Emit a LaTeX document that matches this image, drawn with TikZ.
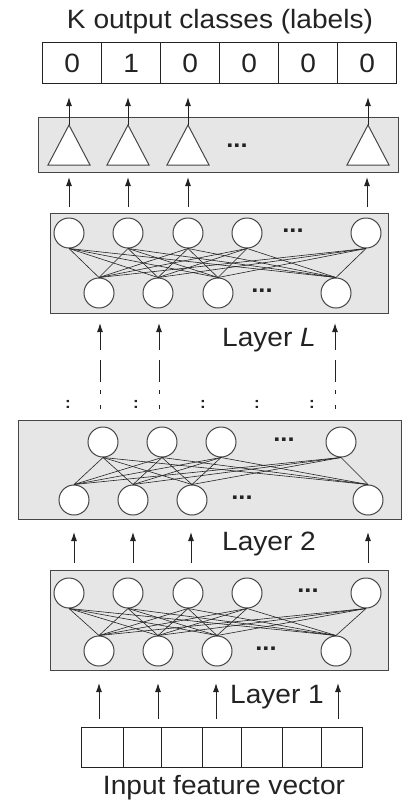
\documentclass[tikz,border=0pt]{standalone}
\usepackage{fontspec}
\setmainfont[FakeStretch=1.06]{Liberation Sans}
\usetikzlibrary{arrows.meta}
\definecolor{boxfill}{RGB}{230,230,230}
\definecolor{ink}{RGB}{35,35,35}
\definecolor{edge}{RGB}{70,70,70}
\begin{document}
\begin{tikzpicture}[x=1pt,y=-1pt,
  lbl/.style={font=\fontsize{26.5}{30}\selectfont, text=ink, inner sep=0pt},
  dotsy/.style={font=\fontsize{24}{24}\selectfont\bfseries, text=ink, inner sep=0pt},
  colon/.style={font=\fontsize{16}{16}\selectfont\bfseries, text=ink, inner sep=0pt},
  layerbox/.style={draw=edge, fill=boxfill, line width=1.2pt},
  cell/.style={draw=ink, line width=1.4pt, fill=white},
  neuron/.style={circle, draw=edge, fill=white, line width=1pt, minimum size=30pt, inner sep=0pt},
  conn/.style={draw=ink, line width=0.6pt},
  arr/.style={draw=ink, line width=1pt, -{Latex[length=9pt,width=6pt]}},
  dline/.style={draw=ink, line width=1pt, dash pattern=on 22pt off 8pt on 4pt off 11pt on 4pt off 20pt}
]
\useasboundingbox (0,0) rectangle (403,801);
\fill[white] (0,0) rectangle (403,801);

% ---------- title and output vector ----------
\node[lbl, anchor=base] (title) at (220,28) {K output classes (labels)};
\foreach \a/\b/\v [count=\i] in {42/101/0,101/160/1,160/219/0,219/278/0,278/337/0,337/396/0}
  \node[cell, lbl, minimum width=\b pt-\a pt, minimum height=41pt, anchor=north west] (o\i) at (\a,42) {\v};

% ---------- output (triangle) layer ----------
\node[layerbox, minimum width=360pt, minimum height=55pt, anchor=north west, inner sep=0pt] (tribox) at (38,117) {};
\foreach \x [count=\i] in {69,128,188,368} {
  \coordinate (ta\i) at (\x,125);
  \coordinate (tl\i) at (\x-21,165);
  \coordinate (tr\i) at (\x+21,165);
  \draw[edge, fill=white, line width=1pt] (ta\i) -- (tl\i) -- (tr\i) -- cycle;
  \coordinate (tip\i) at (\x,97);
  \draw[arr] (ta\i) -- (tip\i);
}
\node[dotsy] (tdots) at (237,146) {...};

% ---------- arrows from layer L to output layer ----------
\foreach \x [count=\i] in {69,128,188,367} {
  \coordinate (lu\i) at (\x,207);
  \coordinate (lv\i) at (\x,177);
  \draw[arr] (lu\i) -- (lv\i);
}

% ---------- Layer L ----------
\node[layerbox, minimum width=338pt, minimum height=100pt, anchor=north west, inner sep=0pt] (boxL) at (50,213) {};
\foreach \x [count=\i] in {69,128,188,247,366} \node[neuron] (LT\i) at (\x,233) {};
\foreach \x [count=\i] in {99,158,218,336} \node[neuron] (LB\i) at (\x,293) {};
\foreach \i in {1,...,5} \foreach \j in {1,...,4} \draw[conn] (LT\i.south) -- (LB\j.north);
\node[dotsy] (Ldots1) at (293,231) {...};
\node[dotsy] (Ldots2) at (262,291) {...};

% ---------- arrows into layer L (with dashes) ----------
\foreach \x [count=\i] in {100,159,335} {
  \coordinate (ds\i) at (\x,350);
  \coordinate (de\i) at (\x,323);
  \draw[arr] (ds\i) -- (de\i);
  \coordinate (dd\i) at (\x,360);
  \coordinate (df\i) at (\x,410);
  \draw[dline] (dd\i) -- (df\i);
}
\node[lbl, anchor=base] (layerL) at (269,346) {Layer \textit{L}};
\foreach \x [count=\i] in {68,136,203,257,312}
  \node[colon] (col\i) at (\x,404) {:};

% ---------- Layer 2 ----------
\node[layerbox, minimum width=383pt, minimum height=99pt, anchor=north west, inner sep=0pt] (box2) at (18,420) {};
\foreach \x [count=\i] in {103,162,221,341} \node[neuron] (MT\i) at (\x,442) {};
\foreach \x [count=\i] in {74,133,192,368} \node[neuron] (MB\i) at (\x,500) {};
\foreach \i in {1,...,4} \foreach \j in {1,...,4} \draw[conn] (MT\i.south) -- (MB\j.north);
\node[dotsy] (Mdots1) at (284,440) {...};
\node[dotsy] (Mdots2) at (242,498) {...};

\foreach \x [count=\i] in {74,133,191,368} {
  \coordinate (mu\i) at (\x,563);
  \coordinate (mv\i) at (\x,532);
  \draw[arr] (mu\i) -- (mv\i);
}
\node[lbl, anchor=base] (layer2) at (269,550) {Layer 2};

% ---------- Layer 1 ----------
\node[layerbox, minimum width=338pt, minimum height=100pt, anchor=north west, inner sep=0pt] (box1) at (50,570) {};
\foreach \x [count=\i] in {69,128,188,247,366} \node[neuron] (FT\i) at (\x,593) {};
\foreach \x [count=\i] in {99,158,217,336} \node[neuron] (FB\i) at (\x,651) {};
\foreach \i in {1,...,5} \foreach \j in {1,...,4} \draw[conn] (FT\i.south) -- (FB\j.north);
\node[dotsy] (Fdots1) at (308,591) {...};
\node[dotsy] (Fdots2) at (266,649) {...};

\foreach \x [count=\i] in {99,158,216,338} {
  \coordinate (iu\i) at (\x,719);
  \coordinate (iv\i) at (\x,683);
  \draw[arr] (iu\i) -- (iv\i);
}
\node[lbl, anchor=base] (layer1) at (277,703) {Layer 1};

% ---------- input vector ----------
\foreach \a/\b [count=\i] in {81/123,123/161,161/202,202/241,241/282,282/321,321/362}
  \node[cell, minimum width=\b pt-\a pt, minimum height=40pt, anchor=north west, inner sep=0pt] (in\i) at (\a,727) {};
\node[lbl, anchor=base] (inlabel) at (224,794) {Input feature vector};
\end{tikzpicture}
\end{document}
